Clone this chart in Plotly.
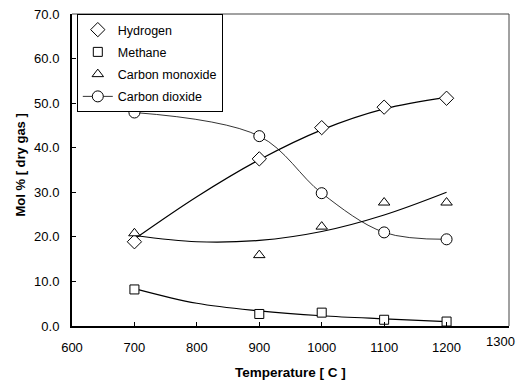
import plotly.graph_objects as go

temps = [700, 900, 1000, 1100, 1200]
hydrogen = [18.9, 37.5, 44.5, 49.1, 51.1]
methane = [8.2, 2.7, 3.0, 1.4, 1.0]
carbon_monoxide = [20.8, 15.9, 22.3, 27.7, 27.7]
carbon_dioxide = [47.9, 42.6, 29.8, 21.0, 19.45]

trend_x = [700, 800, 900, 1000, 1100, 1200]
hydrogen_trend = [19.5, 29.0, 37.3, 44.0, 48.7, 51.3]
methane_trend = [8.4, 5.1, 3.4, 2.3, 1.6, 1.0]
co_trend = [20.3, 18.9, 19.2, 21.2, 24.9, 30.0]

x_ticks = [600, 700, 800, 900, 1000, 1100, 1200, 1300]
x_tick_labels = ["600", "700", "800", "900", "1000", "1100", "1200", "1300"]
y_ticks = [0, 10, 20, 30, 40, 50, 60, 70]

fig = go.Figure()
line_style = dict(color="black", width=1.2, shape="spline", smoothing=1.0)
for ys in (hydrogen_trend, methane_trend, co_trend):
    fig.add_trace(go.Scatter(x=trend_x, y=ys, mode="lines", line=line_style,
                             showlegend=False, hoverinfo="skip"))

mk = dict(color="white", line=dict(color="black", width=1))
fig.add_trace(go.Scatter(x=temps, y=hydrogen, mode="markers", name="Hydrogen", legendgroup="a",
                         marker=dict(symbol="diamond", size=11, **mk)))
fig.add_trace(go.Scatter(x=temps, y=methane, mode="markers", name="Methane", legendgroup="b",
                         marker=dict(symbol="square", size=9, **mk)))
fig.add_trace(go.Scatter(x=temps, y=carbon_monoxide, mode="markers", name="Carbon monoxide",
                         legendgroup="c",
                         marker=dict(symbol="triangle-up", size=10, **mk)))
fig.add_trace(go.Scatter(x=temps, y=carbon_dioxide, mode="lines+markers", name="Carbon dioxide",
                         legendgroup="d",
                         line=dict(color="black", width=0.8, shape="spline", smoothing=1.0),
                         marker=dict(symbol="circle", size=11, **mk)))

# the last tick label sits at the window edge; draw it as an annotation nudged inward
shown_labels = x_tick_labels[:-1] + [""]

# page body has an 8px margin, so the figure is sized and placed to compensate
fig.update_layout(
    width=517, height=373,
    margin=dict(l=64, r=16, t=6, b=55),
    paper_bgcolor="white", plot_bgcolor="white",
    font=dict(family="Liberation Sans, Arial, sans-serif", size=13, color="black"),
    legend=dict(x=0.011, y=1.0, xanchor="left", yanchor="top",
                bordercolor="black", borderwidth=1, bgcolor="white",
                font=dict(size=12.5), tracegroupgap=3, traceorder="grouped"),
    xaxis=dict(range=[600, 1300], tickvals=x_ticks, ticktext=shown_labels,
               ticks="inside", ticklen=4,
               tickcolor="black", showline=True, linecolor="black", linewidth=2,
               showgrid=False, zeroline=False, automargin=False,
               ticklabelstandoff=8, ticklabeloverflow="allow", tickfont=dict(size=13)),
    yaxis=dict(range=[0, 70], tickvals=y_ticks, tickformat=".1f", ticks="inside", ticklen=4,
               tickcolor="black", showline=True, linecolor="black", linewidth=2,
               showgrid=False, zeroline=False, automargin=False,
               ticklabelstandoff=8, ticklabeloverflow="allow", tickfont=dict(size=13)),
    annotations=[
        dict(text=x_tick_labels[-1], xref="paper", yref="paper",
             x=1 + 8 / 437, y=-(341 - 326) / 312, xanchor="right", yanchor="middle",
             showarrow=False, font=dict(size=13)),
        dict(text="<b>Temperature [ C ]</b>", xref="paper", yref="paper",
             x=0.5, y=-(372 - 326) / 312, xanchor="center", yanchor="middle",
             showarrow=False, font=dict(size=13.5)),
        dict(text="<b>Mol % [ dry gas ]</b>", xref="paper", yref="paper",
             x=-(72 - 20) / 437, y=(326 - 165.5) / 312, xanchor="center", yanchor="middle",
             textangle=-90, showarrow=False, font=dict(size=13)),
    ],
    shapes=[
        dict(type="line", xref="paper", yref="paper", x0=0, x1=1, y0=1, y1=1,
             line=dict(color="#444444", width=1)),
        dict(type="line", xref="paper", yref="paper", x0=1, x1=1, y0=0, y1=1,
             line=dict(color="#444444", width=1)),
    ],
)

fig.write_html("out.html")
